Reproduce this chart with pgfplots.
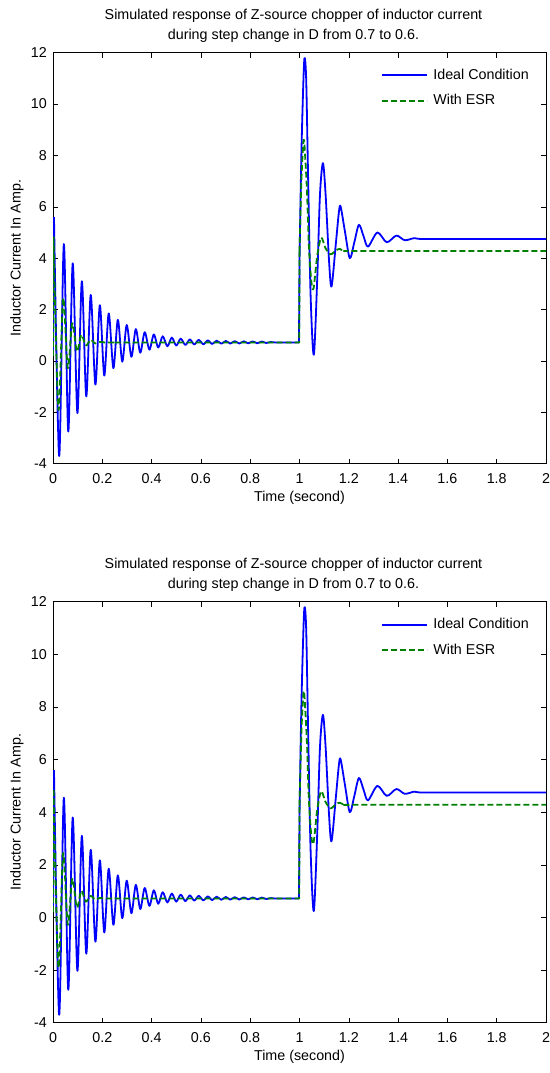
\documentclass[border=0pt]{standalone}
\usepackage{fontspec}
\setmainfont{Liberation Sans}
\usepackage{pgfplots}
\usepackage{pgfplotstable}
\pgfplotsset{compat=1.18}
\newcommand\fs{\fontsize{14.3}{17}\selectfont}
\definecolor{mblue}{RGB}{0,0,255}
\definecolor{mgreen}{RGB}{0,128,0}

% Ideal condition: start, oscillation, flat+step, post-step
\pgfplotstableread{
t v
0.000 0.20
0.004 5.60
}\blueS
\pgfplotstableread{
t v
0.004 5.60
0.025 -3.70
0.044 4.55
0.062 -2.75
0.080 3.80
0.099 -2.03
0.117 3.10
0.135 -1.38
0.153 2.57
0.172 -0.92
0.190 2.17
0.208 -0.57
0.226 1.85
0.245 -0.28
0.263 1.60
0.281 -0.03
0.299 1.40
0.318 0.16
0.336 1.24
0.354 0.32
0.372 1.12
0.391 0.44
0.409 1.03
0.427 0.52
0.445 0.96
0.464 0.57
0.482 0.91
0.500 0.60
0.518 0.87
0.537 0.62
0.555 0.84
0.573 0.64
0.591 0.82
0.610 0.65
0.628 0.80
0.646 0.66
0.664 0.79
0.683 0.67
0.701 0.78
0.719 0.675
0.737 0.77
0.756 0.68
0.774 0.765
0.792 0.685
0.810 0.76
0.829 0.69
0.847 0.755
0.865 0.70
0.883 0.735
0.900 0.72
}\blueA
\pgfplotstableread{
t v
0.900 0.72
0.998 0.72
1.000 3.87
}\blueB
\pgfplotstableread{
t v
1.000 3.87
1.007 7.76
1.014 10.35
1.020 11.78
1.027 11.00
1.035 7.10
1.045 2.57
1.058 0.24
1.072 3.22
1.083 6.46
1.095 7.70
1.106 6.46
1.120 3.87
1.130 2.90
1.147 4.52
1.160 5.81
1.167 6.00
1.185 5.00
1.204 4.00
1.222 4.60
1.241 5.30
1.260 4.85
1.278 4.45
1.316 5.00
1.354 4.62
1.393 4.88
1.427 4.70
1.465 4.78
1.490 4.75
1.600 4.75
2.000 4.75
}\blueC

% With ESR
\pgfplotstableread{
t v
0.000 0.20
0.002 4.84
}\greenS
\pgfplotstableread{
t v
0.002 4.84
0.022 -1.90
0.041 2.44
0.060 -0.28
0.078 1.47
0.097 0.37
0.115 1.02
0.133 0.60
0.152 0.82
0.171 0.68
0.190 0.74
0.210 0.72
0.250 0.72
}\greenA
\pgfplotstableread{
t v
0.250 0.72
0.999 0.72
1.000 4.25
}\greenB
\pgfplotstableread{
t v
1.000 4.25
1.008 7.10
1.017 8.60
1.024 7.80
1.031 6.46
1.038 4.50
1.048 3.10
1.057 2.83
1.072 4.10
1.088 4.80
1.105 4.40
1.126 4.15
1.147 4.30
1.163 4.36
1.185 4.28
1.250 4.28
2.000 4.28
}\greenC

\pgfplotsset{
  myaxis/.style={
    scale only axis, width=493pt,
    xmin=0, xmax=2, ymin=-4, ymax=12,
    xtick={0,0.2,0.4,0.6,0.8,1,1.2,1.4,1.6,1.8,2},
    ytick={-4,-2,0,2,4,6,8,10,12},
    tick align=inside, major tick length=5pt,
    every tick/.style={black, line width=0.6pt},
    axis line style={line width=0.9pt},
    /pgf/number format/assume math mode=true,
    tick label style={font=\fs},
    xticklabel style={inner sep=0pt, anchor=north, yshift=-9.5pt},
    yticklabel style={inner sep=0pt, anchor=east, xshift=-6pt},
    xlabel={Time (second)},
    ylabel={Inductor Current In Amp.},
    label style={font=\fs},
    ylabel style={at={(axis description cs:-0.073,0.5)}, anchor=center, rotate=0},
    title style={font=\fontsize{14.3}{20}\selectfont, align=center, at={(axis description cs:0.5,1)}, anchor=south, yshift=4pt, xshift=-6pt, inner sep=0pt},
    title={Simulated response of Z-source chopper of inductor current\\during step change in D from 0.7 to 0.6.},
    legend style={draw=none, fill=none, font=\fs, anchor=north west, inner sep=0pt,
      nodes={inner sep=0pt, text height=10.5pt, text depth=3pt}, row sep=12.2pt, column sep=5pt},
    legend cell align=left,
    legend image code/.code={\draw[##1] (0pt,0pt) -- (45pt,0pt);},
  },
  blueline/.style={mblue, line width=1.8pt, line join=round},
  greenline/.style={mgreen, line width=1.8pt, line join=round, dash pattern=on 6pt off 3pt},
}

\newcommand\curves{%
  \addplot[blueline, forget plot] table[x=t,y=v] {\blueS};
  \addplot[blueline, smooth, forget plot] table[x=t,y=v] {\blueA};
  \addplot[blueline] table[x=t,y=v] {\blueB};
  \addlegendentry{Ideal Condition}
  \addplot[blueline, smooth, forget plot] table[x=t,y=v] {\blueC};
  \addplot[greenline, forget plot] table[x=t,y=v] {\greenS};
  \addplot[greenline, smooth, forget plot] table[x=t,y=v] {\greenA};
  \addplot[greenline] table[x=t,y=v] {\greenB};
  \addlegendentry{With ESR}
  \addplot[greenline, smooth, forget plot] table[x=t,y=v] {\greenC};
}

\begin{document}
\begin{tikzpicture}
\useasboundingbox (0,0) rectangle (549pt,1073pt);
\begin{axis}[myaxis, at={(53pt,609.3pt)}, anchor=south west, height=411pt,
  xlabel style={at={(axis description cs:0.5,-0.0827)}, anchor=center},
  legend style={at={(axis description cs:0.666,0.962)}}]
\curves
\end{axis}
\begin{axis}[myaxis, at={(53pt,50.3pt)}, anchor=south west, height=421pt,
  xlabel style={at={(axis description cs:0.5,-0.0808)}, anchor=center},
  legend style={at={(axis description cs:0.666,0.962)}}]
\curves
\end{axis}
\end{tikzpicture}
\end{document}
